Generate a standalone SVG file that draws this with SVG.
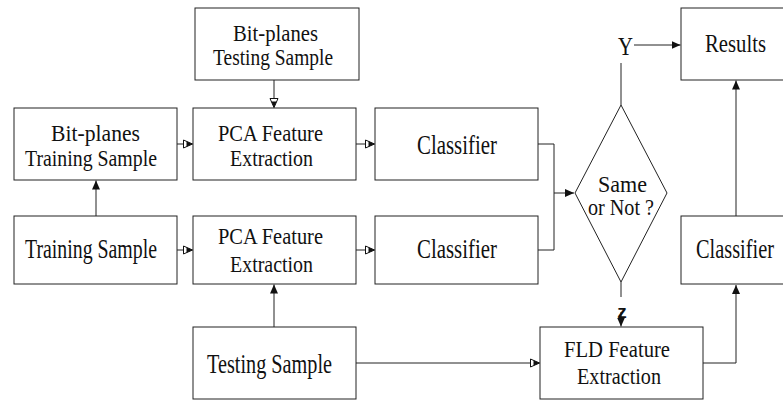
<svg xmlns="http://www.w3.org/2000/svg" width="783" height="400" viewBox="0 0 783 400">
  <style>
    .box { fill: #fff; stroke: #222; stroke-width: 1; }
    .wire { fill: none; stroke: #222; stroke-width: 1; }
    .lbl { font-family: "Liberation Serif", "Times New Roman", "DejaVu Serif", serif; fill: #111; text-anchor: middle; }
    .s23 { font-size: 23px; }
    .s28 { font-size: 28px; }
    .s26 { font-size: 26px; }
    .tag { font-family: "Liberation Sans", Arial, sans-serif; font-weight: bold; font-size: 19px; fill: #111; text-anchor: middle; }
  </style>
  <defs>
    <marker id="solid" markerUnits="userSpaceOnUse" markerWidth="10" markerHeight="9" refX="9" refY="4.5" orient="auto">
      <path d="M0,0.5 L9,4.5 L0,8.5 Z" fill="#111"/>
    </marker>
    <marker id="hollow" markerUnits="userSpaceOnUse" markerWidth="11" markerHeight="10" refX="9.5" refY="5" orient="auto">
      <path d="M0.5,1 L9.5,5 L0.5,9 Z" fill="#fff" stroke="#111" stroke-width="1"/>
      <path d="M3.5,2.3 L9.5,5 L3.5,7.7 Z" fill="#111"/>
    </marker>
  </defs>

  <rect width="783" height="400" fill="#fff"/>

  <!-- connectors -->
  <g id="connectors">
    <line class="wire" x1="274" y1="80" x2="274" y2="107.5" marker-end="url(#hollow)"/>
    <line class="wire" x1="177" y1="144" x2="192.5" y2="144" marker-end="url(#hollow)"/>
    <line class="wire" x1="356" y1="144" x2="374.5" y2="144" marker-end="url(#hollow)"/>
    <line class="wire" x1="96" y1="216" x2="96" y2="180.5" marker-end="url(#solid)"/>
    <line class="wire" x1="177" y1="250" x2="192.5" y2="250" marker-end="url(#hollow)"/>
    <line class="wire" x1="356" y1="250" x2="374.5" y2="250" marker-end="url(#hollow)"/>
    <line class="wire" x1="274" y1="327" x2="274" y2="284.5" marker-end="url(#solid)"/>
    <line class="wire" x1="356" y1="363" x2="539.5" y2="363" marker-end="url(#hollow)"/>
    <polyline class="wire" points="538,144 554,144 554,250 538,250"/>
    <line class="wire" x1="554" y1="193" x2="574" y2="193" marker-end="url(#solid)"/>
    <line class="wire" x1="621" y1="105" x2="621" y2="63"/>
    <line class="wire" x1="634" y1="45" x2="680.5" y2="45" marker-end="url(#solid)"/>
    <line class="wire" x1="621" y1="282" x2="621" y2="297"/>
    <line class="wire" x1="621" y1="312" x2="621" y2="326.5" marker-end="url(#solid)"/>
    <polyline class="wire" points="703,363 736,363 736,285" marker-end="url(#solid)"/>
    <line class="wire" x1="736" y1="216" x2="736" y2="80.5" marker-end="url(#solid)"/>
  </g>

  <g id="bitplanes-testing">
    <rect class="box" x="195" y="8" width="164" height="72"/>
    <text class="lbl s23" x="275.5" y="40.5" textLength="85" lengthAdjust="spacingAndGlyphs">Bit-planes</text>
    <text class="lbl s23" x="273" y="65" textLength="120" lengthAdjust="spacingAndGlyphs">Testing Sample</text>
  </g>

  <g id="bitplanes-training">
    <rect class="box" x="14" y="108" width="163" height="72"/>
    <text class="lbl s23" x="95.5" y="141" textLength="89" lengthAdjust="spacingAndGlyphs">Bit-planes</text>
    <text class="lbl s23" x="91" y="166" textLength="132" lengthAdjust="spacingAndGlyphs">Training Sample</text>
  </g>

  <g id="pca-top">
    <rect class="box" x="193" y="108" width="163" height="72"/>
    <text class="lbl s23" x="270.5" y="141" textLength="105" lengthAdjust="spacingAndGlyphs">PCA Feature</text>
    <text class="lbl s23" x="271.5" y="166" textLength="83" lengthAdjust="spacingAndGlyphs">Extraction</text>
  </g>

  <g id="classifier-top">
    <rect class="box" x="375" y="108" width="163" height="72"/>
    <text class="lbl s28" x="457" y="154" textLength="80" lengthAdjust="spacingAndGlyphs">Classifier</text>
  </g>

  <g id="training-sample">
    <rect class="box" x="14" y="216" width="163" height="68"/>
    <text class="lbl s28" x="91" y="258" textLength="132" lengthAdjust="spacingAndGlyphs">Training Sample</text>
  </g>

  <g id="pca-bottom">
    <rect class="box" x="193" y="216" width="163" height="68"/>
    <text class="lbl s23" x="270.5" y="244" textLength="105" lengthAdjust="spacingAndGlyphs">PCA Feature</text>
    <text class="lbl s23" x="271.5" y="271.5" textLength="83" lengthAdjust="spacingAndGlyphs">Extraction</text>
  </g>

  <g id="classifier-bottom">
    <rect class="box" x="375" y="216" width="163" height="68"/>
    <text class="lbl s28" x="457" y="258" textLength="80" lengthAdjust="spacingAndGlyphs">Classifier</text>
  </g>

  <g id="testing-sample">
    <rect class="box" x="193" y="327" width="163" height="72"/>
    <text class="lbl s28" x="269.5" y="373" textLength="125" lengthAdjust="spacingAndGlyphs">Testing Sample</text>
  </g>

  <g id="decision">
    <polygon class="box" points="621,105 667,193 621,282 575,193"/>
    <text class="lbl s23" x="622.5" y="192" textLength="49" lengthAdjust="spacingAndGlyphs">Same</text>
    <text class="lbl s23" x="621" y="215" textLength="66" lengthAdjust="spacingAndGlyphs">or Not ?</text>
    <text class="lbl s26" x="625.5" y="55" textLength="15" lengthAdjust="spacingAndGlyphs">Y</text>
    <text class="tag" x="622" y="318">z</text>
  </g>

  <g id="results">
    <rect class="box" x="681" y="8" width="104" height="72"/>
    <text class="lbl s26" x="735.5" y="52" textLength="61" lengthAdjust="spacingAndGlyphs">Results</text>
  </g>

  <g id="classifier-right">
    <rect class="box" x="681" y="216" width="104" height="68"/>
    <text class="lbl s28" x="735" y="258" textLength="78" lengthAdjust="spacingAndGlyphs">Classifier</text>
  </g>

  <g id="fld">
    <rect class="box" x="540" y="327" width="163" height="72"/>
    <text class="lbl s23" x="617" y="357" textLength="106" lengthAdjust="spacingAndGlyphs">FLD Feature</text>
    <text class="lbl s23" x="619" y="384" textLength="84" lengthAdjust="spacingAndGlyphs">Extraction</text>
  </g>
</svg>
